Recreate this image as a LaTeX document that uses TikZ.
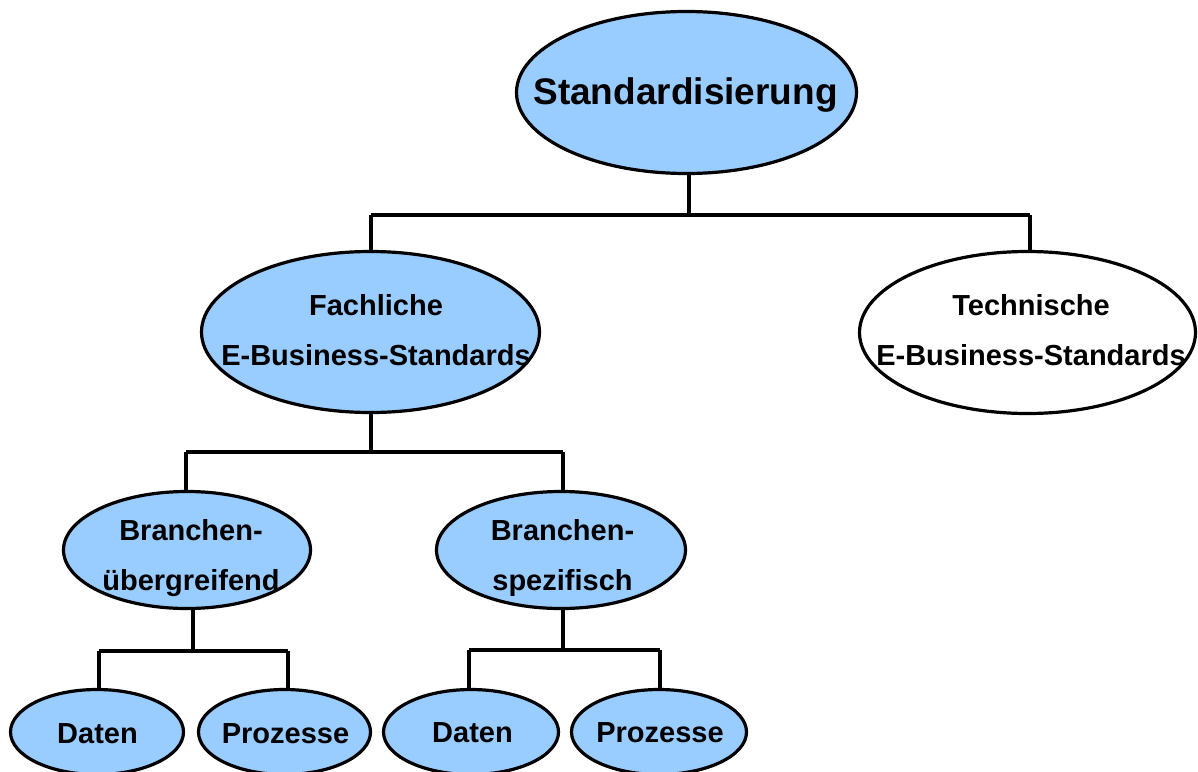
\documentclass[tikz,border=0pt]{standalone}
\usepackage[svgnames]{xcolor}
\usepackage{fontspec}
\setmainfont{Liberation Sans}
\usepackage{tikz}
\usetikzlibrary{shapes.geometric}
\definecolor{SkyFill}{HTML}{99CCFF}
\tikzstyle{none}=[inner sep=0pt]
\tikzstyle{simple}=[-,draw=Black,line width=3.2]
\tikzstyle{blob}=[ellipse,draw=Black,line width=3.2,fill=SkyFill,inner sep=0pt]
\tikzstyle{plain}=[ellipse,draw=Black,line width=3.2,fill=White,inner sep=0pt]
\tikzstyle{txt}=[inner sep=0pt,align=center,font=\fontsize{29}{50}\selectfont\bfseries]
\tikzstyle{headline}=[inner sep=0pt,align=center,font=\fontsize{37}{50}\selectfont\bfseries]

\begin{document}
\begin{tikzpicture}[x=1pt,y=-1pt]
  \useasboundingbox (0,0) rectangle (1198,771);
  \node [style=none] (0) at (689, 175) {};
  \node [style=none] (1) at (689, 215) {};
  \node [style=none] (2) at (371, 215) {};
  \node [style=none] (3) at (1030, 215) {};
  \node [style=none] (4) at (371, 251) {};
  \node [style=none] (5) at (1030, 251) {};
  \node [style=none] (6) at (371, 413) {};
  \node [style=none] (7) at (371, 452) {};
  \node [style=none] (8) at (186, 452) {};
  \node [style=none] (9) at (563, 452) {};
  \node [style=none] (10) at (186, 491) {};
  \node [style=none] (11) at (563, 491) {};
  \node [style=none] (12) at (193, 609) {};
  \node [style=none] (13) at (193, 651) {};
  \node [style=none] (14) at (99, 651) {};
  \node [style=none] (15) at (288, 651) {};
  \node [style=none] (16) at (99, 689) {};
  \node [style=none] (17) at (288, 689) {};
  \node [style=none] (18) at (563, 609) {};
  \node [style=none] (19) at (563, 650) {};
  \node [style=none] (20) at (469, 650) {};
  \node [style=none] (21) at (660, 650) {};
  \node [style=none] (22) at (469, 689) {};
  \node [style=none] (23) at (660, 689) {};
  \draw [style=simple] (0.center) to (1.center);
  \draw [style=simple] (2.center) to (3.center);
  \draw [style=simple] (2.center) to (4.center);
  \draw [style=simple] (3.center) to (5.center);
  \draw [style=simple] (6.center) to (7.center);
  \draw [style=simple] (8.center) to (9.center);
  \draw [style=simple] (8.center) to (10.center);
  \draw [style=simple] (9.center) to (11.center);
  \draw [style=simple] (12.center) to (13.center);
  \draw [style=simple] (14.center) to (15.center);
  \draw [style=simple] (14.center) to (16.center);
  \draw [style=simple] (15.center) to (17.center);
  \draw [style=simple] (18.center) to (19.center);
  \draw [style=simple] (20.center) to (21.center);
  \draw [style=simple] (20.center) to (22.center);
  \draw [style=simple] (21.center) to (23.center);
  \node [style=blob, minimum width=340, minimum height=162] (30) at (686.5, 92.5) {};
  \node [style=blob, minimum width=338, minimum height=161] (31) at (370.5, 332) {};
  \node [style=plain, minimum width=336, minimum height=162] (32) at (1027.5, 332.5) {};
  \node [style=blob, minimum width=247, minimum height=117] (33) at (187, 550) {};
  \node [style=blob, minimum width=249, minimum height=117] (34) at (561, 550) {};
  \node [style=blob, minimum width=173, minimum height=85] (35) at (97, 732) {};
  \node [style=blob, minimum width=172, minimum height=85] (36) at (284.5, 732) {};
  \node [style=blob, minimum width=175, minimum height=85] (37) at (471, 732) {};
  \node [style=blob, minimum width=175, minimum height=85] (38) at (659, 732) {};
  \node [style=headline] (40) at (685.5, 94) {\strut Standardisierung};
  \node [style=txt] (41) at (376, 330) {\strut Fachliche\\\strut E-Business-Standards};
  \node [style=txt] (42) at (1031, 330) {\strut Technische\\\strut E-Business-Standards};
  \node [style=txt] (43) at (191, 555) {\strut Branchen-\\\strut übergreifend};
  \node [style=txt] (44) at (562.5, 555) {\strut Branchen-\\\strut spezifisch};
  \node [style=txt] (45) at (97.5, 733) {\strut Daten};
  \node [style=txt] (46) at (285.5, 733) {\strut Prozesse};
  \node [style=txt] (47) at (472.5, 732) {\strut Daten};
  \node [style=txt] (48) at (660, 732) {\strut Prozesse};
\end{tikzpicture}
\end{document}
